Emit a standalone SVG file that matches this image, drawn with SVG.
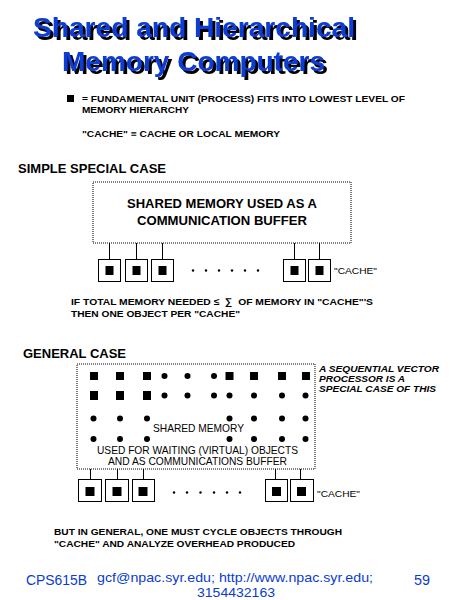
<svg xmlns="http://www.w3.org/2000/svg" width="450" height="600" viewBox="0 0 450 600">
<defs>
  <filter id="shadow" x="-5%" y="-20%" width="115%" height="150%">
    <feFlood flood-color="#000" result="f"/>
    <feComposite in="f" in2="SourceAlpha" operator="in" result="s"/>
    <feOffset in="s" dx="2.5" dy="2.5" result="o"/>
    <feMerge><feMergeNode in="o"/><feMergeNode in="SourceGraphic"/></feMerge>
  </filter>
</defs>
<style>
.title{font-family:"Liberation Sans",Arial,sans-serif;font-weight:bold;font-size:27px;fill:#0a3cd2;filter:url(#shadow)}
.b{font-family:"Liberation Sans",Arial,sans-serif;font-weight:bold;fill:#000}
.r{font-family:"Liberation Sans",Arial,sans-serif;fill:#000}
.blue{fill:#0a3cd2}
.dotbox{fill:none;stroke:#000;stroke-width:1;stroke-dasharray:1 1}
.cbox{fill:#fff;stroke:#000;stroke-width:1}
.conn line{stroke:#000;stroke-width:1}
</style>
<rect width="450" height="600" fill="#fff"/>

<g id="title">
  <text class="title" x="33" y="37" textLength="322" lengthAdjust="spacingAndGlyphs">Shared and Hierarchical</text>
  <text class="title" x="62" y="71" textLength="263" lengthAdjust="spacingAndGlyphs">Memory Computers</text>
</g>

<g id="legend">
  <rect x="67" y="95" width="7" height="7" fill="#000"/>
  <text class="b" x="82" y="102" font-size="9.5" textLength="323" lengthAdjust="spacingAndGlyphs">= FUNDAMENTAL UNIT (PROCESS) FITS INTO LOWEST LEVEL OF</text>
  <text class="b" x="82" y="113" font-size="9.5" textLength="107" lengthAdjust="spacingAndGlyphs">MEMORY HIERARCHY</text>
  <text class="b" x="82" y="137" font-size="9.5" textLength="198" lengthAdjust="spacingAndGlyphs">"CACHE" ≡ CACHE OR LOCAL MEMORY</text>
</g>

<g id="simple-heading">
  <text class="b" x="18" y="173" font-size="12" textLength="148" lengthAdjust="spacingAndGlyphs">SIMPLE SPECIAL CASE</text>
</g>

<g id="simple-memory">
  <rect class="dotbox" x="93" y="182" width="258" height="61"/>
  <text class="b" x="222" y="208" font-size="12" text-anchor="middle" textLength="190" lengthAdjust="spacingAndGlyphs">SHARED MEMORY USED AS A</text>
  <text class="b" x="222" y="225" font-size="12" text-anchor="middle" textLength="170" lengthAdjust="spacingAndGlyphs">COMMUNICATION BUFFER</text>
</g>

<g id="simple-connectors" class="conn">
  <line x1="109.5" y1="243" x2="109.5" y2="259"/>
  <line x1="136.5" y1="243" x2="136.5" y2="259"/>
  <line x1="162.5" y1="243" x2="162.5" y2="259"/>
  <line x1="294.5" y1="243" x2="294.5" y2="259"/>
  <line x1="319.5" y1="243" x2="319.5" y2="259"/>
</g>

<g id="simple-cache-1"><rect class="cbox" x="98.5" y="259.5" width="22" height="22"/><rect x="105.5" y="266" width="8" height="9" fill="#000"/></g>
<g id="simple-cache-2"><rect class="cbox" x="125.5" y="259.5" width="22" height="22"/><rect x="132.5" y="266" width="8" height="9" fill="#000"/></g>
<g id="simple-cache-3"><rect class="cbox" x="151.5" y="259.5" width="22" height="22"/><rect x="158.5" y="266" width="8" height="9" fill="#000"/></g>
<g id="simple-cache-4"><rect class="cbox" x="283.5" y="259.5" width="22" height="22"/><rect x="290.5" y="266" width="8" height="9" fill="#000"/></g>
<g id="simple-cache-5"><rect class="cbox" x="308.5" y="259.5" width="22" height="22"/><rect x="315.5" y="266" width="8" height="9" fill="#000"/></g>
<g id="simple-dots" fill="#000">
  <circle cx="193" cy="270.5" r="1.2"/><circle cx="206" cy="270.5" r="1.2"/><circle cx="219" cy="270.5" r="1.2"/>
  <circle cx="232" cy="270.5" r="1.2"/><circle cx="245" cy="270.5" r="1.2"/><circle cx="258" cy="270.5" r="1.2"/>
</g>
<g id="simple-cache-label">
  <text class="r" x="334" y="274" font-size="9.5" textLength="43" lengthAdjust="spacingAndGlyphs">"CACHE"</text>
</g>

<g id="simple-note">
  <text class="b" x="71" y="305" font-size="9.5" textLength="302" lengthAdjust="spacingAndGlyphs">IF TOTAL MEMORY NEEDED ≤&#160;&#160;∑&#160;&#160;OF MEMORY IN "CACHE"'S</text>
  <text class="b" x="71" y="317" font-size="9.5" textLength="169" lengthAdjust="spacingAndGlyphs">THEN ONE OBJECT PER "CACHE"</text>
</g>

<g id="general-heading">
  <text class="b" x="23" y="358" font-size="12" textLength="103" lengthAdjust="spacingAndGlyphs">GENERAL CASE</text>
</g>

<g id="general-memory">
  <rect class="dotbox" x="77" y="364" width="238" height="105"/>
  <g fill="#000">
    <rect x="90" y="372" width="8" height="8"/><rect x="116" y="372" width="8" height="8"/><rect x="143" y="372" width="8" height="8"/>
    <circle cx="164.5" cy="376" r="3"/><circle cx="187.5" cy="376" r="3"/><circle cx="214" cy="376" r="3"/>
    <rect x="225.5" y="372" width="8" height="8"/><rect x="250" y="372" width="8" height="8"/><rect x="278" y="372" width="8" height="8"/><rect x="302" y="372" width="8" height="8"/>
    <rect x="90" y="391" width="8" height="9"/><rect x="116" y="391" width="8" height="9"/><rect x="143" y="391" width="8" height="9"/>
    <circle cx="164.5" cy="395.5" r="3"/><circle cx="187.5" cy="395.5" r="3"/><circle cx="214" cy="395.5" r="3"/>
    <circle cx="229.5" cy="395.5" r="3"/><circle cx="254" cy="395.5" r="3"/><circle cx="282" cy="395.5" r="3"/><circle cx="305.5" cy="395.5" r="3"/>
    <circle cx="93.5" cy="418.5" r="3"/><circle cx="120" cy="418.5" r="3"/><circle cx="147" cy="418.5" r="3"/>
    <circle cx="229.5" cy="418.5" r="3"/><circle cx="254" cy="418.5" r="3"/><circle cx="282" cy="418.5" r="3"/><circle cx="305.5" cy="418.5" r="3"/>
    <circle cx="93.5" cy="439" r="3"/><circle cx="120" cy="439" r="3"/><circle cx="147" cy="439" r="3"/>
    <circle cx="229.5" cy="439" r="3"/><circle cx="254" cy="439" r="3"/><circle cx="282" cy="439" r="3"/><circle cx="305.5" cy="439" r="3"/>
  </g>
  <text class="r" x="198.5" y="432" font-size="10.5" text-anchor="middle" textLength="91" lengthAdjust="spacingAndGlyphs">SHARED MEMORY</text>
  <text class="r" x="197.5" y="454" font-size="10.5" text-anchor="middle" textLength="201" lengthAdjust="spacingAndGlyphs">USED FOR WAITING (VIRTUAL) OBJECTS</text>
  <text class="r" x="197.5" y="465" font-size="10.5" text-anchor="middle" textLength="179" lengthAdjust="spacingAndGlyphs">AND AS COMMUNICATIONS BUFFER</text>
</g>

<g id="vector-note">
  <text class="b" x="319" y="372" font-size="9.5" font-style="italic" textLength="120" lengthAdjust="spacingAndGlyphs">A SEQUENTIAL VECTOR</text>
  <text class="b" x="319" y="382" font-size="9.5" font-style="italic" textLength="86" lengthAdjust="spacingAndGlyphs">PROCESSOR IS A</text>
  <text class="b" x="319" y="392" font-size="9.5" font-style="italic" textLength="117" lengthAdjust="spacingAndGlyphs">SPECIAL CASE OF THIS</text>
</g>

<g id="general-connectors" class="conn">
  <line x1="90.5" y1="469" x2="90.5" y2="479"/>
  <line x1="117.5" y1="469" x2="117.5" y2="479"/>
  <line x1="143.5" y1="469" x2="143.5" y2="479"/>
  <line x1="275.5" y1="469" x2="275.5" y2="479"/>
  <line x1="300.5" y1="469" x2="300.5" y2="479"/>
</g>

<g id="general-cache-1"><rect class="cbox" x="78.5" y="479.5" width="23" height="22"/><rect x="85.5" y="487" width="9" height="9" fill="#000"/></g>
<g id="general-cache-2"><rect class="cbox" x="105.5" y="479.5" width="23" height="22"/><rect x="112.5" y="487" width="9" height="9" fill="#000"/></g>
<g id="general-cache-3"><rect class="cbox" x="132.5" y="479.5" width="22" height="22"/><rect x="138.5" y="487" width="9" height="9" fill="#000"/></g>
<g id="general-cache-4"><rect class="cbox" x="265.5" y="479.5" width="22" height="22"/><rect x="272" y="487" width="9" height="9" fill="#000"/></g>
<g id="general-cache-5"><rect class="cbox" x="290.5" y="479.5" width="23" height="22"/><rect x="297" y="487" width="9" height="9" fill="#000"/></g>
<g id="general-dots" fill="#000">
  <circle cx="174" cy="492.5" r="1.2"/><circle cx="187" cy="492.5" r="1.2"/><circle cx="200.5" cy="492.5" r="1.2"/>
  <circle cx="214" cy="492.5" r="1.2"/><circle cx="227" cy="492.5" r="1.2"/><circle cx="240" cy="492.5" r="1.2"/>
</g>
<g id="general-cache-label">
  <text class="r" x="317" y="497" font-size="9.5" textLength="43" lengthAdjust="spacingAndGlyphs">"CACHE"</text>
</g>

<g id="bottom-note">
  <text class="b" x="54" y="535" font-size="9.5" textLength="288" lengthAdjust="spacingAndGlyphs">BUT IN GENERAL, ONE MUST CYCLE OBJECTS THROUGH</text>
  <text class="b" x="54" y="547" font-size="9.5" textLength="241" lengthAdjust="spacingAndGlyphs">"CACHE" AND ANALYZE OVERHEAD PRODUCED</text>
</g>

<g id="footer">
  <text class="r blue" x="26" y="585" font-size="14" textLength="61" lengthAdjust="spacingAndGlyphs">CPS615B</text>
  <text class="r blue" x="97" y="581.5" font-size="13.5" textLength="276" lengthAdjust="spacingAndGlyphs">gcf@npac.syr.edu; http://www.npac.syr.edu;</text>
  <text class="r blue" x="197" y="596.5" font-size="13" textLength="78" lengthAdjust="spacingAndGlyphs">3154432163</text>
  <text class="r blue" x="414" y="585" font-size="14" textLength="16" lengthAdjust="spacingAndGlyphs">59</text>
</g>
</svg>
